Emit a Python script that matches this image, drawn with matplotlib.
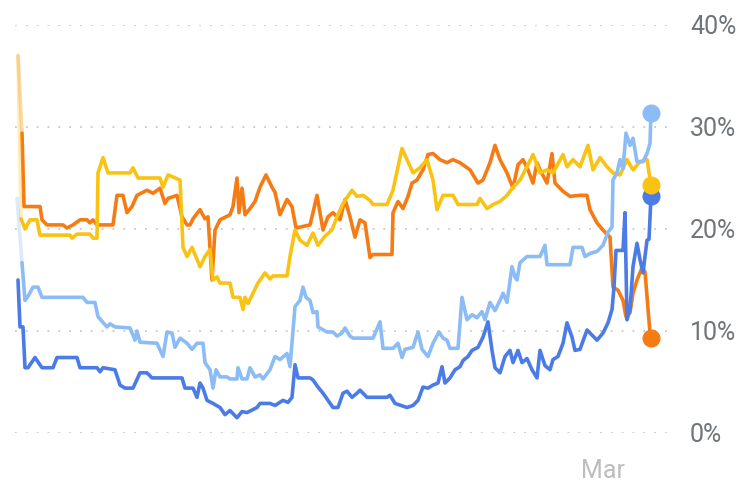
import matplotlib.pyplot as plt

# day offsets (one unit ~ one day), share values in percent
YELLOW_T = [0, 0.6, 1.4, 2.4, 3.8, 4.4, 10.4, 10.8, 11.8, 14.4, 15, 15.8, 16, 17, 18,
            22.4, 23, 24, 28.4, 29, 30, 32.4, 33, 33.8, 34.8, 36.4, 37.4, 38.4, 39,
            39.8, 40.4, 42.4, 43, 44.4, 45, 45.4, 46, 47, 48, 49.4, 50.4, 51, 53.8,
            54.4, 55.4, 56.4, 57.8, 59, 60, 61.4, 62.8, 63.8, 65, 66.8, 67.8, 69,
            70.4, 71, 73.8, 75, 76.8, 77.8, 79, 80.4, 81.8, 83, 83.8, 85, 87, 88,
            91.8, 92.4, 93.8, 95, 96.4, 97.8, 99, 100.4, 101.8, 103, 104.4, 105.8,
            107, 109, 109.8, 111, 112.4, 114, 115, 116.4, 117.8, 119, 120.4, 121.8,
            123, 124.4, 125.8, 126.6]
YELLOW_V = [37, 21, 20, 20.9, 20.9, 19.4, 19.4, 19.1, 19.5, 19.5, 19.1, 19.1, 25.5, 27, 25.5,
            25.5, 26, 25, 25, 24.1, 25.3, 24.8, 18.2, 17.3, 18.2, 16.3, 17.3, 18, 15,
            15.3, 14.7, 14.7, 13.3, 13.3, 12.1, 13.3, 12.7, 13.7, 14.7, 15.7, 15.1, 15.4, 15.4,
            17.3, 19.9, 18.9, 18.4, 19.6, 18.4, 19.3, 19.9, 21.2, 22.5, 23.8, 23.2, 23.3,
            22.8, 22.4, 22.4, 23.8, 27.9, 26.8, 25.5, 26, 26.8, 24.8, 21.9, 23.3, 23.3, 22.4,
            22.4, 23, 22, 22.4, 22.7, 23.3, 24.1, 24.8, 26.1, 27.3, 25.5, 25.8,
            25.5, 27.3, 26.1, 26.8, 26.1, 28.2, 25.8, 27, 26.1, 25.5, 25.3, 26.8,
            25.8, 26.6, 26.8, 24.3]

ORANGE_T = [0, 0.8, 1.2, 4.4, 4.8, 5.8, 9, 9.8, 11, 12.4, 13.8, 14.4, 15, 15.8, 19,
            19.8, 21, 21.8, 22.8, 23.8, 25.8, 27, 28.4, 29.4, 30, 31.8, 32.8, 33.8,
            34.4, 35, 36.4, 37.4, 38, 38.8, 39.4, 40.4, 42.4, 43, 43.8, 44.2, 44.8,
            45.4, 46.4, 47.4, 48.4, 49.6, 50.8, 51.4, 52.4, 53.8, 54.8, 55.6, 58.4,
            59, 59.8, 60.4, 61, 62, 63, 64.4, 65.4, 66.4, 67.4, 68.4, 69.4, 70.4, 71,
            74.8, 75, 76, 77, 78, 78.8, 79.8, 81, 82, 83, 84.4, 85.8, 87, 88.4, 90.4,
            92, 93, 94.4, 95.4, 96.4, 97.8, 99, 100, 101, 102, 103, 103.8, 104.4,
            105.8, 106.8, 107.4, 109, 110.4, 112.4, 113.8, 114.4, 115.8, 117, 118.4,
            119, 120, 121, 121.6, 122.4, 123, 123.8, 124.8, 125.4, 126.4, 126.6]
ORANGE_V = [37, 29.4, 22.2, 22.2, 20.9, 20.4, 20.4, 20.1, 20.4, 20.9, 20.9, 20.6, 20.9, 20.4, 20.4,
            23.3, 23.3, 21.6, 22.2, 23.3, 23.8, 23.5, 24, 22.5, 23, 23.3, 21.2, 20.4,
            20.4, 21, 21.9, 21, 21.2, 15, 19.9, 20.9, 21.4, 22.2, 25, 21.6, 24,
            21.4, 22, 22.7, 24.1, 25.3, 24.1, 23.6, 21.4, 22.9, 22.2, 20.1, 20.4,
            21.6, 23.3, 21.6, 19.9, 21.2, 21.6, 20.9, 22.9, 21.2, 19.2, 20.9, 20.6, 17.2, 17.5,
            17.5, 21.6, 22.7, 22, 23.2, 24.5, 24.8, 25.8, 27.3, 27.4, 26.8, 26.5, 26.8, 26.5, 25.8,
            24.5, 24.8, 26.5, 28.2, 26.8, 25.5, 24, 26.3, 26.8, 25.8, 24.5, 26.5, 25.8,
            24.5, 27.4, 24.5, 23.7, 23.2, 23.3, 23.3, 21.9, 20.6, 19.9, 19.2,
            14.3, 14, 13, 11.4, 11.8, 13.7, 15, 16.2, 15.8, 9.8, 9.3]

LIGHT_T = [-0.2, 0.8, 1.4, 2, 3, 4, 4.8, 13, 13.8, 15.4, 16, 17.8, 18.4, 19.4, 22.4,
           23.4, 23.8, 24.4, 27.8, 29, 29.8, 30.8, 31.4, 32.4, 33.8, 34.8, 35.8, 37,
           37.4, 38.4, 39, 39.6, 40.4, 41.8, 42.4, 43.8, 44, 44.8, 45.8, 46.4, 47.4,
           48.4, 49, 50.4, 51.4, 52.4, 53.8, 54.4, 55.4, 56.4, 57, 57.6, 58.4, 59,
           59.8, 60, 61.8, 63, 63.8, 64.8, 65.4, 66.4, 67, 71, 72.4, 73, 75, 76, 76.8,
           77.4, 79, 80, 80.8, 82, 83, 84.2, 85, 85.8, 86.4, 88, 88.8, 89.8, 90.8,
           91.8, 92.8, 93.4, 94.4, 95.4, 96.4, 97, 97.8, 98.8, 99.4, 99.8, 100.4,
           101.8, 104.4, 105.4, 105.8, 110.4, 111, 112.8, 113.4, 114.4, 115.8, 117,
           118, 118.8, 119, 119.8, 120.4, 121, 121.6, 122.4, 123, 123.8, 125, 125.8,
           126.4, 126.6]
LIGHT_V = [23, 16.7, 13, 13.4, 14.3, 14.3, 13.3, 13.3, 12.8, 12.8, 11.4, 10.4, 10.7, 10.4, 10.3,
           9.1, 10, 8.9, 8.8, 7.5, 9.9, 9.8, 8.4, 9.3, 8.8, 8.2, 8.8, 8.8,
           6.9, 6.2, 4.4, 6.2, 5.5, 5.5, 5.3, 5.3, 6.4, 5.3, 5.3, 6.4, 5.5,
           5.7, 5.3, 6.2, 7.5, 7.2, 7.8, 6.5, 12.4, 13, 14.3, 13.3, 13, 11.8,
           11.9, 10.4, 9.9, 9.9, 9.5, 9.8, 10.3, 9.5, 9.3, 9.3, 10.9, 8.3, 8.3, 8.8, 7.4,
           8.2, 8.4, 9.9, 8.2, 7.5, 8.8, 9.9, 9.3, 9.1, 8.3, 8.3, 13.3, 11.1, 11.6,
           11.3, 11.9, 11.1, 12.8, 12, 13, 13.7, 12.8, 16.3, 15.3, 15, 16.7,
           17.3, 17.3, 18.4, 16.5, 16.5, 18.2, 18.2, 17.3, 17.6, 17.8, 18.4,
           19.7, 20.2, 24.8, 25.5, 26.8, 25.9, 29.4, 28.2, 28.9, 26.6, 26.6, 27.4,
           28.4, 31.4]

BLUE_T = [0, 0.4, 1, 1.4, 2, 3.4, 4.8, 7, 7.8, 11.8, 12.4, 15.8, 16.4, 17, 19.4, 20.4,
          21.4, 23, 24.4, 25.8, 26.8, 32.8, 33.4, 35, 35.8, 36.4, 37, 37.8, 39, 40.4,
          41.4, 42.4, 43.8, 44.8, 45.8, 47.8, 48.4, 50.4, 51.4, 53, 54, 54.8, 55.4,
          56, 58.4, 59, 60, 61, 62, 63, 64, 65, 65.8, 66.8, 67.8, 68.4, 69.8, 73.8,
          74.4, 75.4, 77.8, 79, 80, 81, 82, 83, 84, 84.8, 85.4, 86.4, 87.4, 88.4, 89,
          90, 90.8, 92, 93, 94, 94.8, 95.4, 96.4, 97.4, 98.4, 99, 100, 100.8, 101.8,
          102.8, 103.8, 104.4, 105.4, 106.4, 107, 108, 109, 109.8, 110.8, 111.4,
          112.4, 113.8, 114.8, 115.8, 117, 118, 118.8, 119.2, 119.6, 120.4, 121,
          121.4, 121.8, 122.4, 123, 123.8, 124.4, 125, 125.8, 126.2, 126.6]
BLUE_V = [15, 10.4, 10.4, 6.4, 6.4, 7.4, 6.4, 6.4, 7.4, 7.4, 6.4, 6.4, 6, 6.4, 6.2, 4.7,
          4.4, 4.4, 5.9, 5.9, 5.4, 5.4, 4.4, 4.4, 3.5, 4.9, 4.4, 3.2, 2.9, 2.5,
          1.8, 2.2, 1.5, 2.1, 2, 2.5, 2.9, 2.9, 2.7, 3.2, 3, 3.5, 6.7,
          5.4, 5.4, 5.2, 4.5, 3.9, 3.2, 2.5, 2.5, 3.9, 4.1, 3.5, 3.9, 4.2, 3.5, 3.5,
          3.7, 2.9, 2.5, 2.7, 3.2, 4.5, 4.4, 4.7, 4.9, 6.5, 4.9, 5.4, 6.2, 6.5, 7.1,
          7.5, 8.1, 8.4, 9.4, 10.9, 8.1, 6.4, 5.9, 7.5, 8.1, 6.9, 8.1, 6.9, 7.3,
          6.2, 5.4, 8.1, 6.6, 6.2, 7.2, 7.5, 8.8, 10.8, 9.4, 8.1,
          8.2, 10.1, 9.6, 9.1, 9.8, 10.8, 12.1, 14.3, 17.9, 17.9, 17.9,
          21.6, 11.1, 12.1, 16.3, 18.6, 17, 15.7, 18.9, 19, 23.2]

Y_TICKS = [0, 10, 20, 30, 40]
Y_LABELS = ['0%', '10%', '20%', '30%', '40%']
MAR_DAY = 117

# (times, values, colour, faded first step)
series = [
    (ORANGE_T, ORANGE_V, '#f57c14', True),
    (YELLOW_T, YELLOW_V, '#f9c314', True),
    (LIGHT_T, LIGHT_V, '#8bbcf5', True),
    (BLUE_T, BLUE_V, '#4a7be6', False),
]

plt.rcParams['font.family'] = ['Roboto', 'DejaVu Sans']
fig = plt.figure(figsize=(7.41, 4.92), dpi=100)
ax = fig.add_axes([15 / 741, 59 / 492, 657 / 741, 408 / 492])

for t, v, color, fade in series:
    start = 1 if fade else 0
    if fade:
        # the chart fades its lines in at the left edge
        ax.plot(t[:2], v[:2], color=color, lw=2.6, alpha=0.3, solid_capstyle='round')
    ax.plot(t[start:], v[start:], color=color, lw=2.6, solid_joinstyle='round',
            solid_capstyle='round')

# end-point dots (yellow sits on top of blue)
for t, v, color, z in [(LIGHT_T, LIGHT_V, '#8bbcf5', 5), (BLUE_T, BLUE_V, '#4a7be6', 6),
                       (YELLOW_T, YELLOW_V, '#f9c314', 7), (ORANGE_T, ORANGE_V, '#f57c14', 8)]:
    ax.plot(t[-1], v[-1], 'o', color=color, ms=12, zorder=z, clip_on=False)

ax.set_xlim(-0.6, 130.8)
ax.set_ylim(0, 40)
ax.set_yticks(Y_TICKS)
ax.set_yticklabels(Y_LABELS)
ax.yaxis.tick_right()
ax.tick_params(axis='y', length=0, pad=13, labelsize=18, labelcolor='#70757a')
ax.set_xticks([MAR_DAY])
ax.set_xticklabels(['Mar'])
ax.tick_params(axis='x', length=0, pad=19, labelsize=18, labelcolor='#bdbdbd')
ax.grid(axis='y', color='#c8c8c8', linestyle=(0, (1, 5)), linewidth=1.3)
ax.grid(axis='x', visible=False)
ax.set_axisbelow(True)
for s in ax.spines.values():
    s.set_visible(False)

fig.savefig('out.png', dpi=100)
